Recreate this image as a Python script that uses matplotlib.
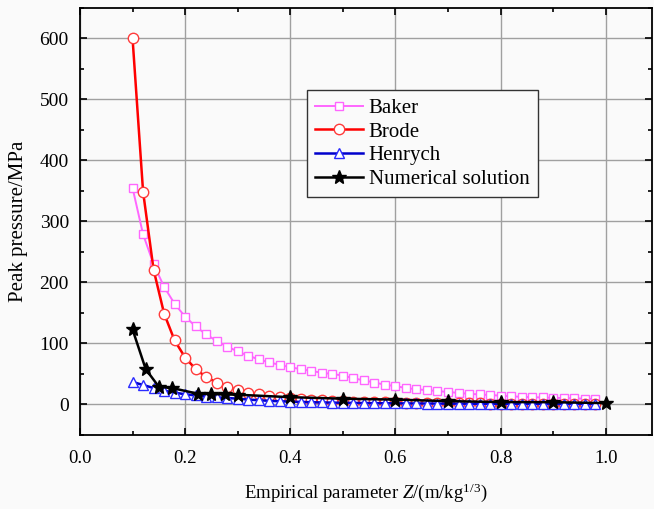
import matplotlib
matplotlib.use("Agg")
import matplotlib.pyplot as plt
from matplotlib.ticker import MultipleLocator

plt.rcParams["font.family"] = ["Liberation Serif", "DejaVu Serif"]
plt.rcParams["mathtext.fontset"] = "custom"
plt.rcParams["mathtext.rm"] = "Liberation Serif"
plt.rcParams["mathtext.it"] = "Liberation Serif:italic"

# scaled distance Z (m/kg^1/3) for the empirical formulas
z_emp = [0.10, 0.12, 0.14, 0.16, 0.18, 0.20, 0.22, 0.24, 0.26, 0.28,
         0.30, 0.32, 0.34, 0.36, 0.38, 0.40, 0.42, 0.44, 0.46, 0.48,
         0.50, 0.52, 0.54, 0.56, 0.58, 0.60, 0.62, 0.64, 0.66, 0.68,
         0.70, 0.72, 0.74, 0.76, 0.78, 0.80, 0.82, 0.84, 0.86, 0.88,
         0.90, 0.92, 0.94, 0.96, 0.98]

baker = [355, 279, 230, 193, 165, 144, 128, 115, 104, 95,
         87, 80, 74, 69, 65, 61, 58, 55, 52, 50,
         47.5, 43, 39.5, 36, 32.5, 30, 27, 25, 23.5, 22,
         20.5, 19, 17.5, 16.5, 15.5, 14.5, 13.5, 12.5, 12, 11.5,
         11, 10.5, 10, 9.5, 9]

brode = [600, 349, 221, 149, 105, 77, 58, 45, 36, 29,
         23.6, 19.6, 16.4, 13.9, 11.9, 10.3, 9.0, 7.8, 6.9, 6.1,
         5.5, 4.9, 4.4, 4.0, 3.6, 3.3, 3.0, 2.7, 2.5, 2.3,
         2.1, 2.0, 1.8, 1.7, 1.6, 1.5, 1.4, 1.3, 1.2, 1.2,
         1.1, 1.0, 1.0, 0.9, 0.9]

henrych = [37, 32, 27, 22.7, 19.4, 16.8, 14.8, 13.1, 11.7, 10.6,
           9.6, 8.1, 7.0, 6.0, 5.3, 4.7, 4.2, 3.7, 3.4, 3.1,
           2.8, 2.6, 2.4, 2.2, 2.1, 1.9, 1.8, 1.7, 1.6, 1.5,
           1.4, 1.4, 1.3, 1.2, 1.2, 1.1, 1.1, 1.0, 1.0, 1.0,
           0.9, 0.9, 0.9, 0.85, 0.8]

z_num = [0.1, 0.125, 0.15, 0.175, 0.225, 0.25, 0.275, 0.3,
         0.4, 0.5, 0.6, 0.7, 0.8, 0.9, 1.0]
numerical = [123, 58, 29, 27, 17.5, 17, 16.5, 16,
             12, 9.5, 8, 5.5, 4, 3.8, 2.2]

bg = "#fafafa"
fig = plt.figure(figsize=(6.54, 5.09), dpi=100, facecolor=bg)
ax = fig.add_axes([0.1223, 0.1454, 0.8746, 0.8389])
ax.set_facecolor(bg)

ax.plot(z_emp, baker, color="#ff66ff", lw=1.4, marker="s", ms=6,
        mfc="white", mec="#ff66ff", mew=1.0, label="Baker")
ax.plot(z_emp, brode, color="#ff0000", lw=1.8, marker="o", ms=7.5,
        mfc="white", mec="#ff3b3b", mew=1.0, label="Brode")
ax.plot(z_emp, henrych, color="#0000cc", lw=1.8, marker="^", ms=7.5,
        mfc="white", mec="#2a2aff", mew=1.0, label="Henrych")
ax.plot(z_num, numerical, color="black", lw=1.8, marker="*", ms=10,
        mfc="black", mec="black", label="Numerical solution")

ax.set_xlim(0, 1.088)
ax.set_ylim(-50, 650)
ax.xaxis.set_major_locator(MultipleLocator(0.2))
ax.xaxis.set_minor_locator(MultipleLocator(0.1))
ax.yaxis.set_major_locator(MultipleLocator(100))
ax.yaxis.set_minor_locator(MultipleLocator(50))
ax.xaxis.set_major_formatter(plt.FormatStrFormatter("%.1f"))

ax.grid(True, which="major", color="#a0a0a0", lw=1.0)
ax.set_axisbelow(True)
ax.tick_params(which="both", direction="in", top=True, right=True,
               width=1.2, colors="black")
ax.tick_params(which="major", length=5, pad=8)
ax.tick_params(which="minor", length=3)
ax.tick_params(axis="x", labelsize=13.5, pad=11)
ax.tick_params(axis="y", labelsize=14)
for s in ax.spines.values():
    s.set_linewidth(1.3)
    s.set_color("black")

ax.set_xlabel(r"Empirical parameter $Z$/(m/kg$^{1/3}$)", fontsize=13.5, labelpad=10)
ax.set_ylabel("Peak pressure/MPa", fontsize=15, labelpad=8)

leg = ax.legend(loc="upper left", bbox_to_anchor=(0.397, 0.808), borderaxespad=0,
                fontsize=15, frameon=True, fancybox=False, edgecolor="#333333",
                handlelength=2.3, handletextpad=0.25, labelspacing=0.2,
                borderpad=0.4, facecolor=bg, framealpha=1)
leg.get_frame().set_linewidth(1.0)

fig.savefig("out.png", dpi=100, facecolor=bg)
